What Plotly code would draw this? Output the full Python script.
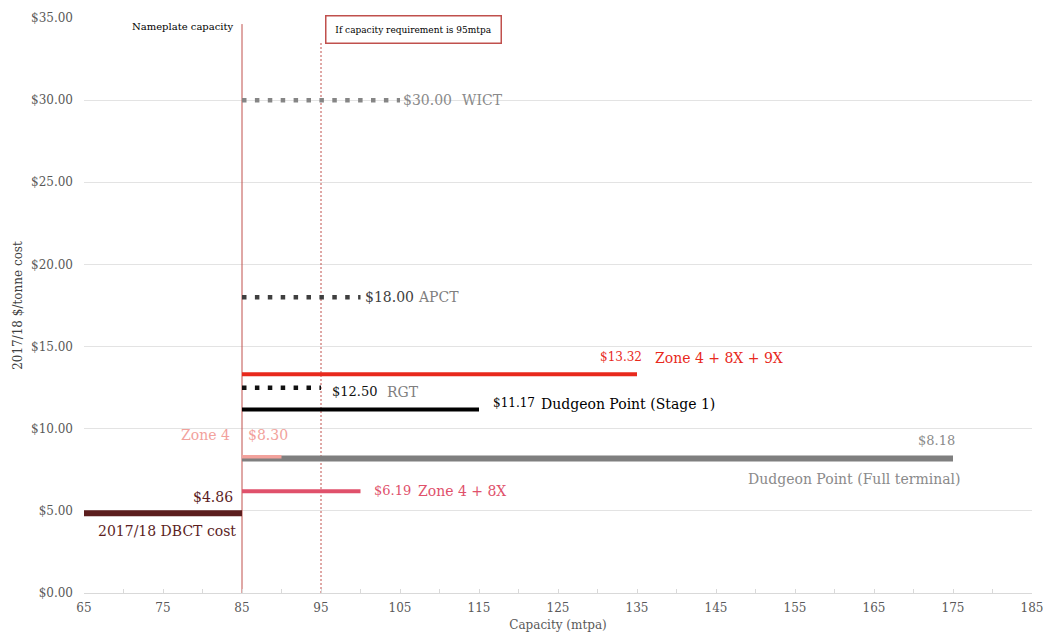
import plotly.graph_objects as go

# Terminal cost options: capacity range (mtpa) and 2017/18 $/tonne cost
names = ["WICT", "APCT", "RGT", "Zone 4 + 8X + 9X", "Dudgeon Point (Stage 1)",
         "Dudgeon Point (Full terminal)", "Zone 4", "Zone 4 + 8X", "2017/18 DBCT cost"]
cap_start = [85, 85, 85, 85, 85, 85, 85, 85, 65]
cap_end = [105, 100, 95, 135, 115, 175, 90, 100, 85]
cost = [30.00, 18.00, 12.50, 13.32, 11.17, 8.18, 8.30, 6.19, 4.86]

# Reference capacities
nameplate_capacity = 85
required_capacity = 95

x_ticks = [65, 75, 85, 95, 105, 115, 125, 135, 145, 155, 165, 175, 185]
y_ticks = [0, 5, 10, 15, 20, 25, 30, 35]

FONT = "DejaVu Serif"

styles = {
    "WICT": dict(color="#858585", width=4.5, dash="4.5px,8.4px"),
    "APCT": dict(color="#3f3f3f", width=4.5, dash="4.5px,8.4px"),
    "RGT": dict(color="#111111", width=4.5, dash="4.5px,8.4px"),
    "Zone 4 + 8X + 9X": dict(color="#e8291c", width=4),
    "Dudgeon Point (Stage 1)": dict(color="#000000", width=4),
    "Dudgeon Point (Full terminal)": dict(color="#7f7f7f", width=6),
    "Zone 4": dict(color="#f2a29c", width=3.5),
    "Zone 4 + 8X": dict(color="#e0516b", width=4),
    "2017/18 DBCT cost": dict(color="#5c1e1e", width=6),
}

fig = go.Figure()

# Capacity reference lines
fig.add_trace(go.Scatter(x=[nameplate_capacity, nameplate_capacity], y=[0, 34.63],
                         mode="lines", line=dict(color="#c0504d", width=1),
                         showlegend=False, hoverinfo="skip"))
fig.add_trace(go.Scatter(x=[required_capacity, required_capacity], y=[0, 33.5],
                         mode="lines", line=dict(color="#c0504d", width=1, dash="2px,2px"),
                         showlegend=False, hoverinfo="skip"))

for n, x0, x1, c in zip(names, cap_start, cap_end, cost):
    fig.add_trace(go.Scatter(x=[x0, x1], y=[c, c], mode="lines", name=n,
                             line=styles[n], showlegend=False))

def money(v):
    return f"${v:.2f}"

ann = []

def label(text, x, y, color, size=14, anchor="left"):
    ann.append(dict(text=text, x=x, y=y, xref="x", yref="y", showarrow=False,
                    xanchor=anchor, yanchor="middle",
                    font=dict(family=FONT, size=size, color=color)))

c = dict(zip(names, cost))
label(money(c["WICT"]), 105.1, 30.0, "#8a8a8a", 14)
label("WICT", 112.6, 30.0, "#8a8a8a", 14)
label(money(c["APCT"]), 100.3, 18.0, "#404040", 14)
label("APCT", 107.0, 18.0, "#7f7f7f", 14)
label(money(c["RGT"]), 96.1, 12.25, "#111111", 13)
label("RGT", 103.1, 12.25, "#7f7f7f", 14)
label(money(c["Dudgeon Point (Stage 1)"]), 116.5, 11.55, "#000000", 12)
label("Dudgeon Point (Stage 1)", 122.6, 11.5, "#000000", 14)
label(money(c["Zone 4 + 8X + 9X"]), 130.1, 14.36, "#e8291c", 12)
label("Zone 4 + 8X + 9X", 137.0, 14.3, "#e8291c", 14)
label(money(c["Dudgeon Point (Full terminal)"]), 175.5, 9.31, "#8a8a8a", 13, "right")
label("Dudgeon Point (Full terminal)", 176.1, 6.94, "#8a8a8a", 14, "right")
label("Zone 4", 83.7, 9.62, "#f2a29c", 14, "right")
label(money(c["Zone 4"]), 85.5, 9.62, "#f2a29c", 14)
label(money(c["Zone 4 + 8X"]), 101.5, 6.25, "#e0516b", 13)
label("Zone 4 + 8X", 107.0, 6.2, "#e0516b", 14)
label(money(c["2017/18 DBCT cost"]), 84.1, 5.84, "#5c1e1e", 14, "right")
label("2017/18 DBCT cost", 84.5, 3.77, "#5c1e1e", 14, "right")

# Reference-line captions
ann.append(dict(text="Nameplate capacity", x=84.3, y=34.5, xref="x", yref="y",
                showarrow=False, xanchor="right", yanchor="middle",
                font=dict(family=FONT, size=10, color="#000000")))
ann.append(dict(text="If capacity requirement is 95mtpa", x=106.7, y=34.33, xref="x", yref="y",
                showarrow=False, xanchor="center", yanchor="middle",
                width=172, height=24, bordercolor="#c0504d", borderwidth=1.5,
                bgcolor="white",
                font=dict(family=FONT, size=9, color="#000000")))

fig.update_layout(
    width=1043, height=641,
    margin=dict(l=84, r=11, t=18, b=48, autoexpand=False),
    plot_bgcolor="white", paper_bgcolor="white",
    annotations=ann,
    xaxis=dict(
        range=[65, 185], tickvals=x_ticks, ticktext=[str(v) for v in x_ticks],
        showgrid=False, zeroline=False, showline=True, linecolor="#d9d9d9", linewidth=1,
        ticks="inside", ticklen=4, tickcolor="#d9d9d9",
        minor=dict(dtick=5, tick0=65, ticks="inside", ticklen=4, tickcolor="#d9d9d9", showgrid=False),
        tickfont=dict(family=FONT, size=12, color="#595959"),
        ticklabelstandoff=4, ticklabeloverflow="allow", automargin=False,
        title=dict(text="Capacity (mtpa)", font=dict(family=FONT, size=12, color="#595959"), standoff=6),
    ),
    yaxis=dict(
        range=[0, 35], tickvals=y_ticks, ticktext=[money(v) for v in y_ticks],
        showgrid=True, gridcolor="#e3e3e3", gridwidth=1, zeroline=False,
        showline=False, ticks="", automargin=False,
        tickfont=dict(family=FONT, size=12, color="#595959"),
        ticklabelstandoff=10,
        title=dict(text="2017/18 $/tonne cost", font=dict(family=FONT, size=12, color="#404040"), standoff=5),
    ),
)

fig.write_html("out.html")
